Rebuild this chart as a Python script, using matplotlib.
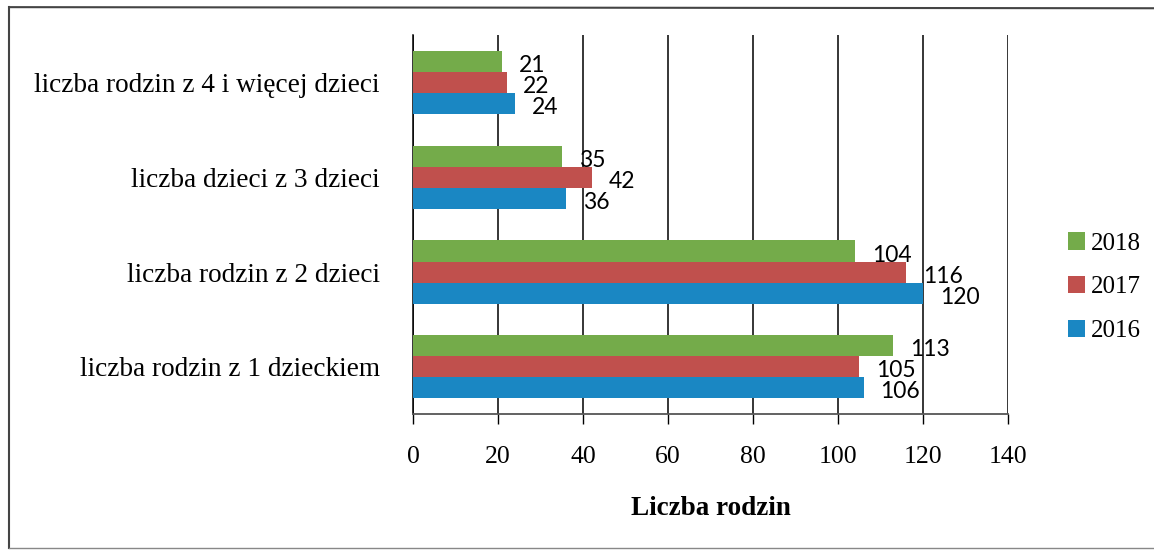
import matplotlib.pyplot as plt
import numpy as np
from matplotlib.lines import Line2D

categories = [
    "liczba rodzin z 1 dzieckiem",
    "liczba rodzin z 2 dzieci",
    "liczba dzieci z 3 dzieci",
    "liczba rodzin z 4 i więcej dzieci",
]
years = ["2016", "2017", "2018"]
values_2016 = [106, 120, 36, 24]
values_2017 = [105, 116, 42, 22]
values_2018 = [113, 104, 35, 21]
colors = ["#1a87c3", "#c0504d", "#74ab4a"]
x_ticks = [0, 20, 40, 60, 80, 100, 120, 140]

fig = plt.figure(figsize=(11.54, 5.5), dpi=100)
ax = fig.add_axes([0.358, 0.247, 0.5155, 0.689])

y = np.arange(len(categories))
h = 0.222
series = [values_2016, values_2017, values_2018]
bars = []
for i, (vals, col, yr) in enumerate(zip(series, colors, years)):
    pos = y + (i - 1) * h
    b = ax.barh(pos, vals, height=h, color=col, label=yr, zorder=3)
    bars.append(b)
    for p, v in zip(pos, vals):
        ax.annotate(str(v), (v, p), xytext=(12, -3), textcoords="offset points",
                    ha="left", va="center", fontsize=16.5, family="Lato", zorder=4)

ax.set_xlim(0, 140)
ax.set_ylim(-0.5, 3.5)
ax.set_xticks(x_ticks)
ax.set_xticklabels([str(t) for t in x_ticks], family="Liberation Serif", fontsize=18.5)
ax.set_yticks(y)
ax.set_yticklabels(categories, family="Liberation Serif", fontsize=19.6)
ax.tick_params(axis="y", length=0, pad=24)
ax.tick_params(axis="x", direction="out", length=7, width=1, pad=16)
ax.xaxis.grid(True, color="black", linewidth=1.1, zorder=0)
for s in ["top", "right"]:
    ax.spines[s].set_visible(False)
ax.spines["left"].set_linewidth(1.1)
ax.spines["bottom"].set_color("#555555")
ax.spines["bottom"].set_linewidth(1.3)
ax.set_xlabel("Liczba rodzin", family="Liberation Serif", fontsize=19.5,
              fontweight="bold", labelpad=20)

handles = [bars[2], bars[1], bars[0]]
ax.legend(handles, ["2018", "2017", "2016"], loc="center left",
          bbox_to_anchor=(1.1, 0.335), frameon=False, handlelength=0.7,
          handleheight=0.7, handletextpad=0.25, labelspacing=0.85,
          borderaxespad=0, borderpad=0,
          prop={"family": "Liberation Serif", "size": 18})

# frame around the chart
fig.add_artist(Line2D([0.008, 0.008], [0.003, 0.987], color="#444444", lw=1.5))
fig.add_artist(Line2D([0.008, 1.0], [0.987, 0.985], color="#444444", lw=1.5))
fig.add_artist(Line2D([0.008, 1.0], [0.003, 0.003], color="#888888", lw=1.0))

fig.savefig("out.png", dpi=100)
